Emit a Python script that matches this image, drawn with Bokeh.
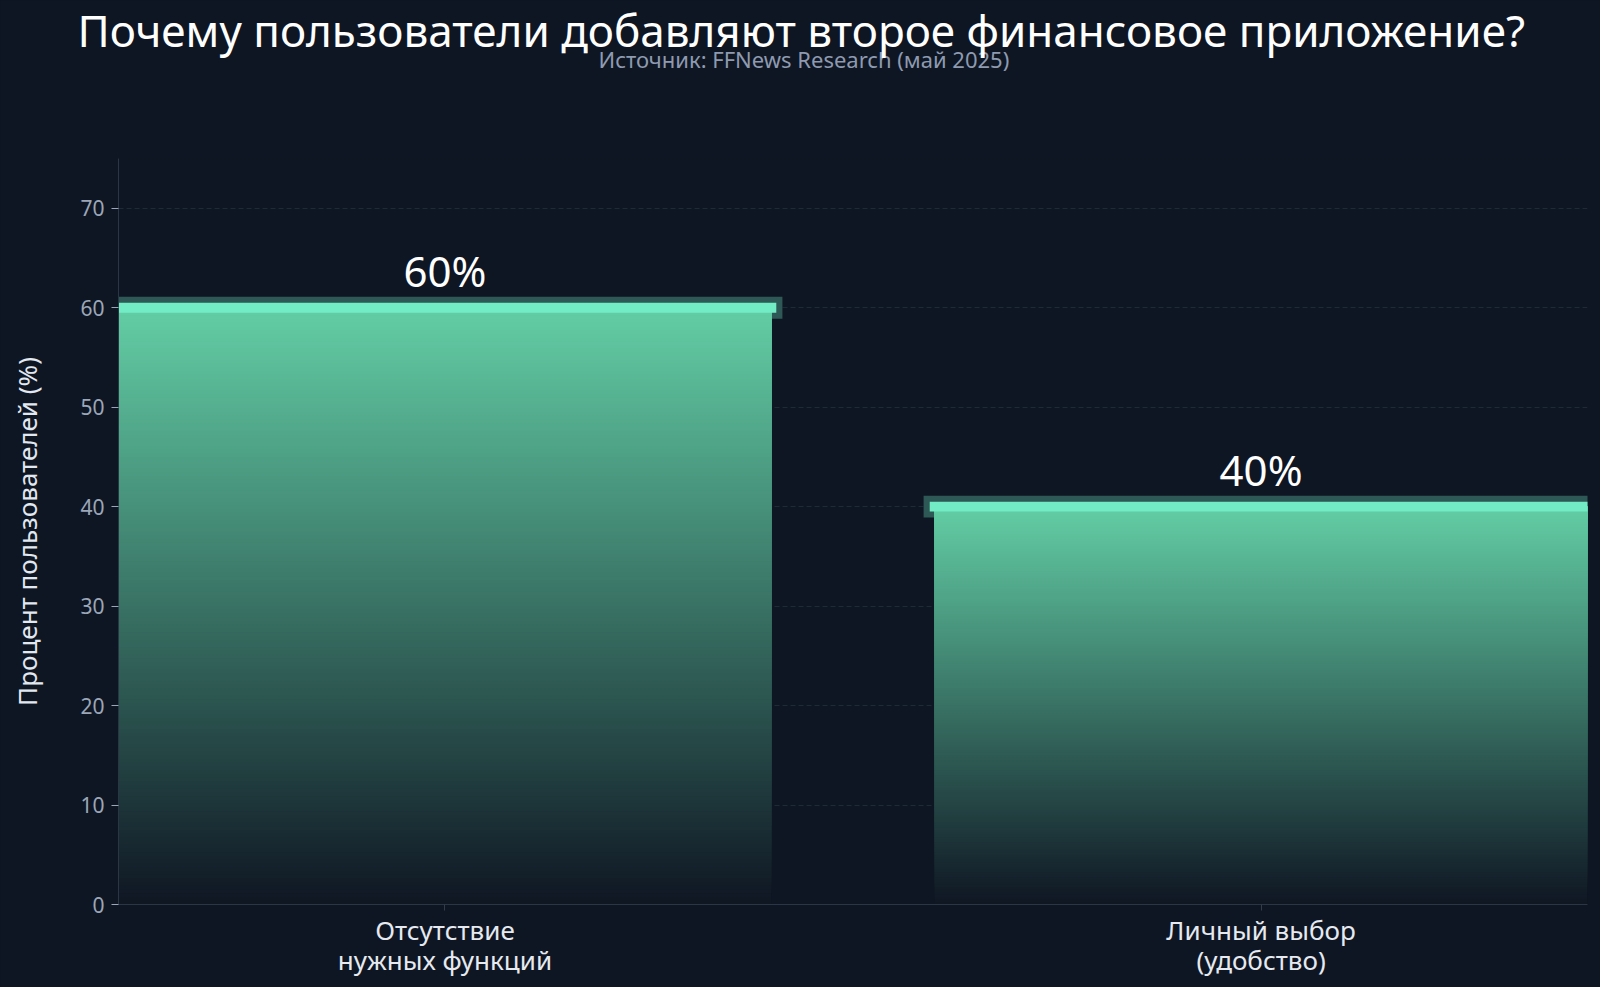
from bokeh.plotting import figure
from bokeh.models import Range1d, FixedTicker, ColumnDataSource, Title
from bokeh.core.properties import value as pval
from bokeh.embed import file_html
from bokeh.resources import INLINE

# ---- data ----
categories = ["Отсутствие\nнужных функций", "Личный выбор\n(удобство)"]
values = [60, 40]
value_labels = ["60%", "40%"]
y_ticks = [0, 10, 20, 30, 40, 50, 60, 70]
title_text = "Почему пользователи добавляют второе финансовое приложение?"
subtitle_text = "Источник: FFNews Research (май 2025)"
y_label = "Процент пользователей (%)"

# ---- style ----
BG = "#0f1623"
MINT = (110, 231, 183)
BGRGB = (15, 22, 35)
FONT = "Noto Sans"

xs = list(range(len(categories)))
BAR_W = 0.8

p = figure(width=1600, height=987,
           x_range=Range1d(-0.4, 1.4), y_range=Range1d(0, 75),
           output_backend="svg", toolbar_location=None,
           min_border_left=118, min_border_right=13,
           min_border_top=158, min_border_bottom=83,
           background_fill_color=BG, border_fill_color=BG)
p.outline_line_color = None

# glow rect behind the top edge
p.quad(left=[x - BAR_W / 2 - 0.0135 for x in xs], right=[x + BAR_W / 2 + 0.0135 for x in xs],
       bottom=[v - 1.1 for v in values], top=[v + 1.1 for v in values],
       fill_color="#2d5855", line_color=None)

# gradient bars: overlapping slices, each from its level up to the bar top
N = 160
L, R, B, T, C = [], [], [], [], []
for x, v in zip(xs, values):
    for i in range(N):
        t = (i + 0.5) / N
        w = 0.88 * t
        col = tuple(int(round(BGRGB[k] + w * (MINT[k] - BGRGB[k]))) for k in range(3))
        L.append(x - BAR_W / 2)
        R.append(x + BAR_W / 2)
        B.append(v * i / N)
        T.append(v)
        C.append("#%02x%02x%02x" % col)
p.quad(source=ColumnDataSource(dict(left=L, right=R, bottom=B, top=T, color=C)),
       left="left", right="right", bottom="bottom", top="top",
       fill_color="color", line_color=None)

# bright cap
p.quad(left=[x - BAR_W / 2 - 0.006 for x in xs], right=[x + BAR_W / 2 + 0.006 for x in xs],
       bottom=[v - 0.5 for v in values], top=[v + 0.5 for v in values],
       fill_color="#72ecc4", line_color=None)

# value labels
p.text(x=xs, y=values, text=value_labels, text_align="center", text_baseline="middle",
       y_offset=-37, text_color="#ffffff", text_font_size="42px", text_font=pval(FONT))

# axes
p.xaxis.ticker = FixedTicker(ticks=xs)
p.xaxis.major_label_overrides = {x: c for x, c in zip(xs, categories)}
p.xaxis.major_label_text_font = FONT
p.xaxis.major_label_text_font_size = "26px"
p.xaxis.major_label_text_line_height = 0.85
p.xaxis.major_label_text_color = "#e6eaf0"
p.xaxis.major_label_standoff = 1
p.xaxis.major_tick_out = 6
p.xaxis.major_tick_in = 0
p.xaxis.major_tick_line_color = "#333d4a"
p.xaxis.minor_tick_line_color = None
p.xaxis.axis_line_color = "#2a3644"

p.yaxis.ticker = FixedTicker(ticks=y_ticks)
p.yaxis.major_label_text_font = FONT
p.yaxis.major_label_text_font_size = "21px"
p.yaxis.major_label_text_color = "#9ba7b9"
p.yaxis.major_label_standoff = 7
p.yaxis.major_tick_out = 7
p.yaxis.major_tick_in = 0
p.yaxis.major_tick_line_color = "#9ba7b9"
p.yaxis.minor_tick_line_color = None
p.yaxis.axis_line_color = "#2a3644"
p.yaxis.axis_label = y_label
p.yaxis.axis_label_text_font = FONT
p.yaxis.axis_label_text_font_size = "26px"
p.yaxis.axis_label_text_font_style = "normal"
p.yaxis.axis_label_text_color = "#e2e8f0"
p.yaxis.axis_label_standoff = 32

p.xgrid.grid_line_color = None
p.ygrid.grid_line_color = "#1f2a38"
p.ygrid.grid_line_dash = "5 3"
p.ygrid.grid_line_width = 1

# subtitle (nearest the frame) and title, lifted with negative standoff
p.add_layout(Title(text=subtitle_text, align="left", offset=480, text_font=FONT,
                   text_font_size="22px", text_font_style="normal", vertical_align="top",
                   text_color="#8e9ab0", standoff=-229), "above")
p.add_layout(Title(text=title_text, align="left", offset=-41, text_font=FONT,
                   text_font_size="44px", text_font_style="normal", vertical_align="top",
                   text_color="#ffffff", standoff=-318), "above")

html = file_html(p, INLINE)
html = html.replace("<head>", "<head><style>html,body{background:#0f1623;margin:0;}</style>", 1)
open("out.html", "w").write(html)
